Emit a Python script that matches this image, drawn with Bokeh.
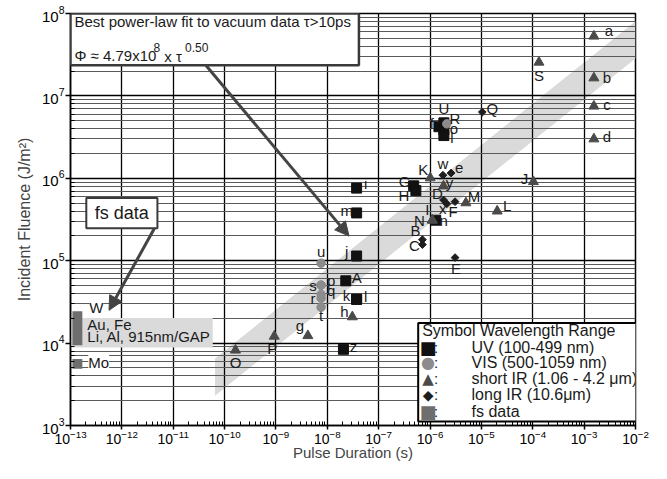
import math
from bokeh.plotting import figure
from bokeh.models import FixedTicker, Label, BoxAnnotation, Arrow, NormalHead
from bokeh.core.properties import value
from bokeh.embed import file_html
from bokeh.resources import INLINE

# ---------------- data ----------------
x_tick_exps = list(range(-13, -1))      # 1e-13 .. 1e-2
y_tick_exps = list(range(3, 9))         # 1e3 .. 1e8

# UV (100-499 nm) : squares
uv_names = ["i", "m", "j", "G", "H", "U", "f", "o", "l", "n", "A", "k", "l", "z"]
uv_tau = [3.72e-8, 3.72e-8, 3.72e-8, 4.8e-7, 5.3e-7, 1.86e-6, 1.49e-6, 1.86e-6, 1.86e-6,
          1.29e-6, 2.29e-8, 3.72e-8, 3.72e-8, 2.06e-8]
uv_phi = [7.6e5, 3.8e5, 1.14e5, 8.1e5, 7.1e5, 4.71e6, 4.23e6, 3.89e6, 3.30e6,
          3.1e5, 5.7e4, 3.4e4, 3.4e4, 8.4e3]

# VIS (500-1059 nm) : circles
vis_names = ["u", "p", "s", "q", "r", "t", "R"]
vis_tau = [7.57e-9, 7.57e-9, 7.57e-9, 7.57e-9, 7.57e-9, 7.57e-9, 2.12e-6]
vis_phi = [9.33e4, 5.05e4, 5.05e4, 3.9e4, 3.5e4, 2.72e4, 4.58e6]

# short IR (1.06 - 4.2 um) : triangles
sir_names = ["a", "b", "c", "d", "S", "J", "K", "y", "M", "L", "I", "N", "h", "g", "P", "O"]
sir_tau = [1.55e-3, 1.55e-3, 1.55e-3, 1.55e-3, 1.32e-4, 1.03e-4, 1.01e-6, 1.83e-6, 4.99e-6,
           2.03e-5, 1.11e-6, 1.11e-6, 3.07e-8, 4.18e-9, 9.27e-10, 1.63e-10]
sir_phi = [5.3e7, 1.65e7, 7.5e6, 3.0e6, 2.56e7, 9.1e5, 1.01e6, 8.05e5, 5.03e5,
           4.0e5, 3.1e5, 3.1e5, 2.08e4, 1.23e4, 1.21e4, 8.2e3]

# long IR (10.6 um) : diamonds
lir_names = ["Q", "w", "e", "D", "x", "F", "B", "C", "E"]
lir_tau = [1.04e-5, 1.78e-6, 2.57e-6, 1.83e-6, 2.12e-6, 3.07e-6, 7.1e-7, 7.1e-7, 3.07e-6]
lir_phi = [6.36e6, 1.09e6, 1.16e6, 5.46e5, 4.9e5, 5.2e5, 1.8e5, 1.57e5, 1.09e5]

# fs data : fluence ranges near 100 fs
fs_names = ["W / Au, Fe / Li, Al, 915nm/GAP", "Mo"]
fs_tau_lo = [1.09e-13, 1.09e-13]
fs_tau_hi = [1.7e-13, 1.7e-13]
fs_phi_lo = [9.4e3, 4.9e3]
fs_phi_hi = [2.43e4, 6.4e3]

# power-law fit  Phi = A * tau^B  (from the chart text)
fit_A = 4.79e8
fit_B = 0.50
fit_tau_range = [6.5e-11, 1e-2]

legend_labels = ["UV (100-499 nm)", "VIS (500-1059 nm)", "short IR (1.06 - 4.2 μm)",
                 "long IR (10.6μm)", "fs data"]

# ---------------- styles (label offsets in px, screen-down positive) ----------------
uv_dx = [9, -10, -10, -9, -12, 0, -7, 10, 8, 8, 11, -10, 9, 10]
uv_dy = [-5, -2, -5, -4, 5, -14, -3, -1, 2, 0, -3, -4, -3, -3]
vis_dx = [0, 10, -8, 10, -8, 0, 8]
vis_dy = [-12, -5, 0, -4, 0, 8, -5]
sir_dx = [15, 13, 13, 13, 0, -9, -7, 6, 8, 10, -5, -13, -8, -8, -2, 0]
sir_dy = [-6, 0, -2, -2, 13, -3, -8, -4, -6, -6, -11, 0, -5, -10, 12, 12]
lir_dx = [10, 0, 8, -6, -4, -2, -7, -8, 1]
lir_dy = [-4, -12, -5, -6, 5, 10, -9, 1, 11]

FONT = "Liberation Sans"
C_UV, C_VIS, C_SIR, C_LIR, C_FS = "#111111", "#8c8c8c", "#4a4a4a", "#1e1e1e", "#6e6e6e"
C_BAND = "#dadada"
C_BOX = "#3a3a3a"

# reference-image pixel -> data position helper (for annotation placement only)
X0, XPD, Y0, YPD = 63.0, 52.0, 15.0, 84.4
def ref(px, py):
    return 10 ** (-13 + (px - X0) / XPD), 10 ** (8 - (py - Y0) / YPD)

p = figure(width=651, height=463, x_axis_type="log", y_axis_type="log",
           x_range=(1e-13, 1e-2), y_range=(1e3, 1e8),
           output_backend="svg", toolbar_location=None,
           min_border_left=70, min_border_right=16, min_border_top=13, min_border_bottom=10)
p.outline_line_color = "black"
p.outline_line_width = 1.5
p.background_fill_color = "white"
p.border_fill_color = "white"

x_major = [10.0 ** e for e in x_tick_exps]
y_major = [10.0 ** e for e in y_tick_exps]
x_minor = [m * 10.0 ** e for e in x_tick_exps[:-1] for m in range(2, 10)]
y_minor = [m * 10.0 ** e for e in y_tick_exps[:-1] for m in range(2, 10)]
p.xaxis.ticker = FixedTicker(ticks=x_major, minor_ticks=x_minor)
p.yaxis.ticker = FixedTicker(ticks=y_major, minor_ticks=y_minor)

p.xaxis.axis_label = "Pulse Duration (s)"
p.yaxis.axis_label = "Incident Fluence (J/m²)"
for ax in (p.xaxis[0], p.yaxis[0]):
    ax.major_tick_out = 5
    ax.major_tick_in = 0
    ax.minor_tick_in = 4
    ax.minor_tick_out = 0
    ax.axis_line_width = 1.5
    ax.major_tick_line_width = 1.5
    ax.major_label_text_font = FONT
    ax.major_label_text_font_size = "15px"
    ax.major_label_text_color = "black"
    ax.axis_label_text_font = FONT
    ax.axis_label_text_font_size = "16px"
    ax.axis_label_text_font_style = "normal"
    ax.major_label_standoff = 1
    ax.axis_label_standoff = 1
p.xaxis.major_label_text_font_size = "14px"
p.xaxis.axis_label_text_font_size = "15px"
p.xaxis.major_tick_out = 4
p.xaxis.major_label_standoff = 0
p.xaxis.axis_label_standoff = -3
p.yaxis.axis_label_standoff = 6

p.xgrid.grid_line_color = "black"
p.xgrid.grid_line_width = 1.3
p.ygrid.grid_line_color = "black"
p.ygrid.grid_line_width = 1.3
p.ygrid.minor_grid_line_color = "#5a5a5a"
p.ygrid.minor_grid_line_width = 1

# fit band (under the grid)
band_lo = [fit_A * t ** fit_B / 1.68 for t in fit_tau_range]
band_hi = [fit_A * t ** fit_B * 1.68 for t in fit_tau_range]
band = p.varea(x=fit_tau_range, y1=band_lo, y2=band_hi, fill_color=C_BAND)
band.level = "image"

# fs label background band
fbl, fbb = ref(63, 357)
fbr, fbt = ref(207, 327)
p.quad(left=[fbl], right=[fbr], bottom=[fbb], top=[fbt], fill_color=C_BAND, line_color=None)

# fs bars
p.quad(left=fs_tau_lo, right=fs_tau_hi, bottom=fs_phi_lo, top=fs_phi_hi,
       fill_color=C_FS, line_color=None)

# data markers
p.scatter(uv_tau, uv_phi, marker="square", size=10, fill_color=C_UV, line_color=C_UV)
p.scatter(vis_tau, vis_phi, marker="circle", size=8.5, fill_color=C_VIS, line_color=C_VIS)
p.scatter(sir_tau, sir_phi, marker="triangle", size=10, fill_color=C_SIR, line_color=C_SIR)
p.scatter(lir_tau, lir_phi, marker="square", angle=math.pi / 4, size=5.5,
          fill_color=C_LIR, line_color=C_LIR)

# point letters
all_tau = uv_tau + vis_tau + sir_tau + lir_tau
all_phi = uv_phi + vis_phi + sir_phi + lir_phi
all_txt = uv_names + vis_names + sir_names + lir_names
all_dx = uv_dx + vis_dx + sir_dx + lir_dx
all_dy = uv_dy + vis_dy + sir_dy + lir_dy
p.text(x=all_tau, y=all_phi, text=all_txt, x_offset=all_dx, y_offset=all_dy,
       text_align="center", text_baseline="middle", text_font=value(FONT),
       text_font_size="15px", text_color="#1a1a1a")

def lbl(px, py, text, size="15px", color="#1a1a1a", align="left", font=FONT, bg=None):
    x, y = ref(px, py)
    kw = {}
    if bg:
        kw["background_fill_color"] = bg
    p.add_layout(Label(x=x, y=y, text=text, text_font=font, text_font_size=size,
                       text_color=color, text_align=align, text_baseline="middle", **kw))

# fs texts
lbl(82, 316, "W", bg="white")
lbl(80, 334, "Au, Fe")
lbl(80, 346, "Li, Al, 915nm/GAP")
lbl(81, 372, "Mo", bg="white")

def box(x0, y0, x1, y1, lw=2, color=C_BOX):
    l, b = ref(x0, y1)
    r, t = ref(x1, y0)
    p.add_layout(BoxAnnotation(left=l, right=r, bottom=b, top=t, fill_color="white",
                               fill_alpha=1, line_color=color, line_width=lw, line_alpha=1))

# top fit box
box(63, 15, 355, 68, lw=2.5)
lbl(67, 23, "Best power-law fit to vacuum data τ>10ps")
lbl(67, 58, "Φ ≈ 4.79x10")
lbl(147, 50, "8", size="12px")
lbl(158, 59, "x τ")
lbl(179, 50, "0.50", size="12px")

# fs data box
box(79, 204, 151, 235, lw=2)
lbl(115, 219, "fs data", size="18px", align="center")

# arrows
def arrow(px0, py0, px1, py1):
    xs, ys = ref(px0, py0)
    xe, ye = ref(px1, py1)
    p.add_layout(Arrow(x_start=xs, y_start=ys, x_end=xe, y_end=ye, line_color="#444444",
                       line_width=3,
                       end=NormalHead(size=14, fill_color="#444444", line_color="#444444")))

arrow(200, 68, 345, 243)
arrow(148, 235, 102, 319)

# legend
box(415, 332, 636, 433, lw=2, color="black")
lbl(419, 340, "Symbol Wavelength Range", size="16px")
row_y = [356.7, 372.5, 389, 405.7, 422.7]
sym = ["■", "●", "▲", "◆", "■"]
sym_size = ["18px", "16px", "15px", "14px", "18px"]
sym_col = [C_UV, C_VIS, C_SIR, C_LIR, C_FS]
for yy, s, ss, c, t in zip(row_y, sym, sym_size, sym_col, legend_labels):
    lbl(425, yy, s, size=ss, color=c, align="center", font="DejaVu Sans")
    lbl(431, yy, ":", size="15px")
    lbl(469, yy, t, size="16px")

open("out.html", "w").write(file_html(p, INLINE))
